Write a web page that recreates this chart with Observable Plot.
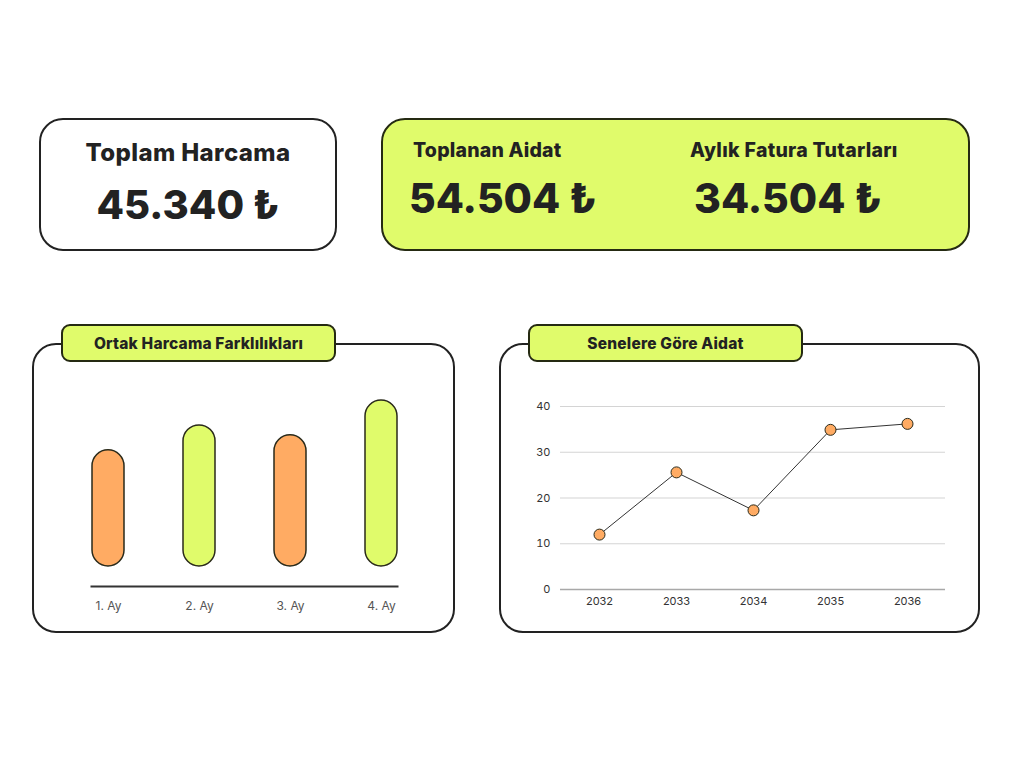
<!DOCTYPE html>
<html>
<head>
<meta charset="utf-8">
<script src="https://cdn.jsdelivr.net/npm/d3@7"></script>
<script src="https://cdn.jsdelivr.net/npm/@observablehq/plot@0.6"></script>
<style>
  html, body { margin: 0; padding: 0; background: #fff; }
  body { width: 1024px; height: 768px; position: relative; overflow: hidden; font-family: Inter, "Noto Sans", sans-serif; color: #222; }
  .card { position: absolute; box-sizing: border-box; border: 2px solid #222; border-radius: 24px; background: #fff; }
  .green { background: #e0fb6b; border-color: #252a12; }
  .tab { position: absolute; box-sizing: border-box; border: 2px solid #252a12; border-radius: 9px; background: #e0fb6b;
         font-weight: 800; font-size: 15.5px; letter-spacing: 0.2px; display: flex; align-items: center; justify-content: center; color: #222; }
  .label { position: absolute; font-weight: 800; white-space: nowrap; color: #222; }
  .chart { position: absolute; }
</style>
</head>
<body>
<div class="card" style="left:39px;top:118px;width:298px;height:133px;"></div>
<div class="label" style="left:39px;width:298px;text-align:center;top:138px;font-size:24px;letter-spacing:0.4px;">Toplam Harcama</div>
<div class="label" style="left:39px;width:298px;text-align:center;top:180px;font-size:40px;">45.340 ₺</div>

<div class="card green" style="left:381px;top:118px;width:589px;height:133px;"></div>
<div class="label" style="left:413px;top:138px;font-size:19.5px;letter-spacing:0.2px;">Toplanan Aidat</div>
<div class="label" style="left:409px;top:173px;font-size:41px;">54.504 ₺</div>
<div class="label" style="left:690px;top:138px;font-size:19.5px;letter-spacing:0.3px;">Aylık Fatura Tutarları</div>
<div class="label" style="left:694px;top:173px;font-size:41px;">34.504 ₺</div>

<div class="card" style="left:32px;top:343px;width:423px;height:290px;"></div>
<div class="tab" style="left:61px;top:324px;width:275px;height:38px;">Ortak Harcama Farklılıkları</div>
<div class="card" style="left:499px;top:343px;width:481px;height:290px;"></div>
<div class="tab" style="left:528px;top:324px;width:275px;height:38px;">Senelere Göre Aidat</div>

<div id="bar" class="chart" style="left:40px;top:380px;"></div>
<div id="line" class="chart" style="left:500px;top:380px;"></div>

<script>
// Bar chart data
const months = ["1. Ay", "2. Ay", "3. Ay", "4. Ay"];
const monthValues = [70, 85, 79, 100];
const monthColors = ["#ffab63", "#e0fb6b", "#ffab63", "#e0fb6b"];

// Line chart data
const years = ["2032", "2033", "2034", "2035", "2036"];
const yearValues = [12, 25.6, 17.3, 34.9, 36.2];
const yTicks = [0, 10, 20, 30, 40];

const barData = months.map((m, i) => ({month: m, value: monthValues[i], color: monthColors[i]}));
const lineData = years.map((y, i) => ({year: y, value: yearValues[i]}));

const barChart = Plot.plot({
  width: 400,
  height: 240,
  marginLeft: 51,
  marginRight: 43,
  marginTop: 20,
  marginBottom: 34,
  style: {fontFamily: "Inter, sans-serif", fontSize: "12px", color: "#555", background: "transparent"},
  x: {domain: months, paddingInner: 0.65, paddingOuter: 0, label: null},
  y: {domain: [0, 100], insetBottom: 20, axis: null},
  marks: [
    Plot.frame({anchor: "bottom", stroke: "#333", strokeWidth: 2}),
    Plot.barY(barData, {x: "month", y: "value", fill: "color", stroke: "#2a2a1a", strokeWidth: 1.5, rx: 16}),
    Plot.axisX({tickSize: 0, tickPadding: 15, fill: "#555"})
  ]
});
document.getElementById("bar").appendChild(barChart);

const lineChart = Plot.plot({
  width: 470,
  height: 240,
  marginLeft: 60,
  marginRight: 25,
  marginTop: 26,
  marginBottom: 31,
  style: {fontFamily: "Inter, sans-serif", fontSize: "11px", color: "#333", background: "transparent"},
  x: {domain: years, type: "point", padding: 0.5, label: null},
  y: {domain: [0, 40], label: null},
  marks: [
    Plot.gridY(yTicks.filter(d => d !== 0), {stroke: "#d4d4d4", strokeOpacity: 1, strokeWidth: 1.2}),
    Plot.ruleY([0], {stroke: "#a8a8a8", strokeWidth: 1.5}),
    Plot.axisY(yTicks, {tickSize: 0, tickPadding: 10, label: null, fill: "#333"}),
    Plot.axisX({tickSize: 0, tickPadding: 8, label: null, fill: "#333"}),
    Plot.line(lineData, {x: "year", y: "value", stroke: "#333", strokeWidth: 1}),
    Plot.dot(lineData, {x: "year", y: "value", r: 5.5, fill: "#ffab63", stroke: "#2a2a1a", strokeWidth: 1})
  ]
});
document.getElementById("line").appendChild(lineChart);
</script>
</body>
</html>
